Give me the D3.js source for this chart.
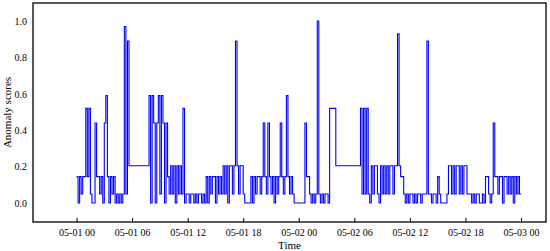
<!DOCTYPE html>
<html>
<head>
<meta charset="utf-8">
<script src="https://cdn.jsdelivr.net/npm/d3@7"></script>
<style>
    body { margin: 0; background: #fff; }
    .axis text { font-family: "Liberation Serif", "Times New Roman", serif; font-size: 10px; fill: #000; }
    .axis path, .axis line { stroke: #000; }
</style>
</head>
<body>
<div class="canvas"><svg width="550" height="251"></svg></div>
<script>
    var width = 550;
    var height = 251;

// data: one score every 10 minutes, from 05-01 00:00 to 05-03 00:00
var startTime = new Date(2021, 4, 1, 0, 0);
var stepMinutes = 10;
var scores = [
    0.145, 0, 0.145, 0.05, 0.145, 0.145, 0.52, 0.145, 0.52, 0.05,
    0, 0, 0.44, 0.145, 0.145, 0.05, 0.145, 0, 0.44, 0.59,
    0.145, 0, 0.145, 0.05, 0.145, 0, 0.05, 0, 0.05, 0,
    0.05, 0.97, 0.05, 0.89, 0.205, 0.205, 0.205, 0.205, 0.205, 0.205,
    0.205, 0.205, 0.205, 0.205, 0.205, 0.205, 0.205, 0.59, 0, 0.59,
    0.44, 0, 0.44, 0.59, 0.05, 0.59, 0.44, 0, 0.44, 0.145,
    0.05, 0.205, 0.05, 0.205, 0, 0.205, 0.05, 0.205, 0.05, 0.52,
    0, 0.05, 0.05, 0, 0.05, 0.05, 0, 0.05, 0, 0.05,
    0.05, 0, 0.05, 0, 0.145, 0, 0.145, 0.05, 0.145, 0.145,
    0, 0.145, 0.05, 0.145, 0.05, 0.205, 0.05, 0.205, 0, 0.205,
    0.205, 0.05, 0.205, 0.89, 0.205, 0.05, 0.205, 0.205, 0.05, 0,
    0, 0, 0, 0.145, 0, 0.145, 0.05, 0.145, 0.145, 0.05,
    0.145, 0.44, 0.145, 0.05, 0.44, 0.145, 0.05, 0.145, 0, 0.145,
    0.05, 0.145, 0.44, 0.145, 0.05, 0.145, 0.59, 0.145, 0.05, 0.145,
    0.05, 0, 0, 0, 0, 0, 0, 0, 0.44, 0.145,
    0.145, 0.05, 0, 0.05, 0, 0.05, 1.0, 0.05, 0, 0.05,
    0, 0.05, 0.05, 0, 0.52, 0.52, 0.52, 0.52, 0.205, 0.205,
    0.205, 0.205, 0.205, 0.205, 0.205, 0.205, 0.205, 0.205, 0.205, 0.205,
    0.205, 0.205, 0.205, 0.205, 0.52, 0.05, 0.52, 0.05, 0.52, 0.05,
    0, 0.205, 0.05, 0.205, 0.205, 0.05, 0, 0.205, 0.05, 0.205,
    0.05, 0.205, 0.05, 0.205, 0.205, 0.05, 0.205, 0.205, 0.93, 0.205,
    0.145, 0.145, 0.05, 0, 0.05, 0, 0.05, 0.05, 0, 0.05,
    0, 0.05, 0.05, 0, 0.05, 0.05, 0.05, 0.89, 0.05, 0.05,
    0, 0.05, 0.05, 0, 0.145, 0.05, 0, 0, 0, 0,
    0.05, 0.205, 0.205, 0.05, 0.205, 0.05, 0.205, 0.205, 0.05, 0.205,
    0.05, 0.205, 0.205, 0.05, 0.05, 0.05, 0, 0.05, 0, 0.05,
    0.05, 0, 0, 0.05, 0, 0.145, 0.145, 0.05, 0, 0.05,
    0.44, 0.145, 0.145, 0.05, 0.145, 0.145, 0, 0.145, 0.145, 0.05,
    0.145, 0.05, 0.145, 0, 0.145, 0.05, 0.145, 0.05, 0.05
];
var yTicks = [0, 0.2, 0.4, 0.6, 0.8, 1.0];

var data = scores.map(function(v, i){
    return { time: d3.timeMinute.offset(startTime, i*stepMinutes), score: v };
});

// plot frame (named to avoid the window.top global)
var plotLeft = 33, plotRight = 546, plotTop = 3, plotBottom = 222;

var svg = d3.select( ".canvas" ).select( "svg" );

//scales
var scaleX = d3.scaleTime()
    .domain([d3.timeMinute.offset(startTime, -282), d3.timeMinute.offset(startTime, 48*60 + 162)])
    .range([plotLeft, plotRight]);

var scaleY = d3.scaleLinear()
    .domain([-0.104, 1.099])
    .range([plotBottom, plotTop]);

//line
var line = d3.line()
    .curve(d3.curveStepAfter)
    .x(function(d){ return scaleX(d.time); })
    .y(function(d){ return scaleY(d.score); });

svg.append("path")
    .datum(data)
    .attr("d", line)
    .style("fill", "none")
    .style("stroke", "#0000ff")
    .style("stroke-width", 1.1);

//axes
var axisX = d3.axisBottom()
    .scale(scaleX)
    .ticks(d3.timeHour.every(6))
    .tickFormat(d3.timeFormat("%m-%d %H"))
    .tickSizeInner(-4)
    .tickSizeOuter(0)
    .tickPadding(7);

var axisY = d3.axisLeft()
    .scale(scaleY)
    .tickValues(yTicks)
    .tickFormat(d3.format(".1f"))
    .tickSizeInner(0)
    .tickSizeOuter(0)
    .tickPadding(6);

svg.append("g").attr("class", "axis axis-x")
    .attr("transform", "translate(0," + plotBottom + ")")
    .attr("font-family", "'Liberation Serif', 'Times New Roman', serif")
    .call(axisX);

svg.append("g").attr("class", "axis axis-y")
    .attr("transform", "translate(" + plotLeft + ",0)")
    .attr("font-family", "'Liberation Serif', 'Times New Roman', serif")
    .call(axisY);

svg.selectAll(".axis .domain").remove();

//frame
svg.append("rect")
    .attr("x", plotLeft)
    .attr("y", plotTop)
    .attr("width", plotRight - plotLeft)
    .attr("height", plotBottom - plotTop)
    .style("fill", "none")
    .style("stroke", "#000")
    .style("stroke-width", 1.3);

//axis titles
svg.append("text")
    .attr("x", (plotLeft + plotRight)/2)
    .attr("y", 249)
    .attr("text-anchor", "middle")
    .style("font-family", "'Liberation Serif', 'Times New Roman', serif")
    .style("font-size", "11px")
    .text("Time");

svg.append("text")
    .attr("transform", "translate(10.5," + (plotTop + plotBottom)/2 + ") rotate(-90)")
    .attr("text-anchor", "middle")
    .style("font-family", "'Liberation Serif', 'Times New Roman', serif")
    .style("font-size", "11px")
    .text("Anomaly scores");
</script>
</body>
</html>
